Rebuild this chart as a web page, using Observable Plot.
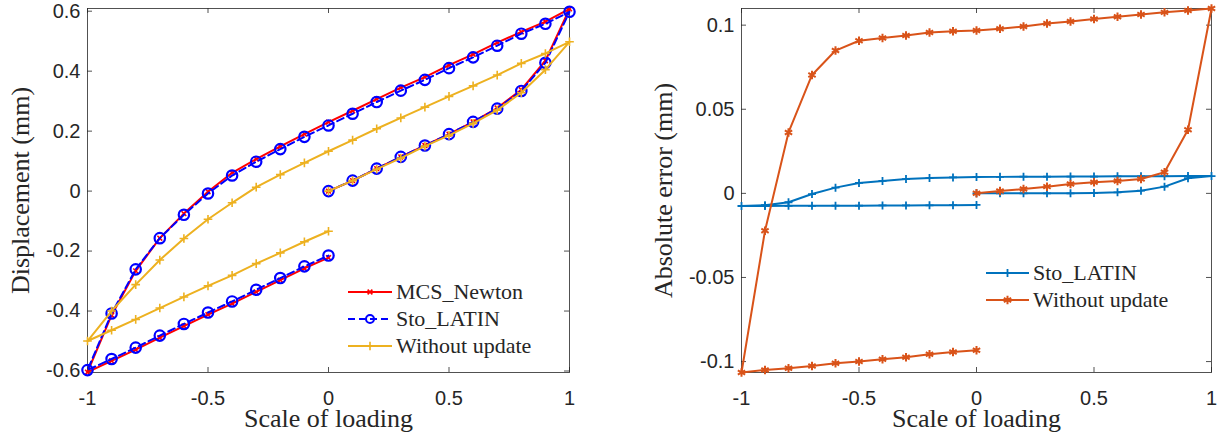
<!DOCTYPE html>
<html><head><meta charset="utf-8">
<script src="https://cdn.jsdelivr.net/npm/d3@7"></script>
<script src="https://cdn.jsdelivr.net/npm/@observablehq/plot@0.6"></script>
<style>
body{margin:0;background:#fff}
#wrap{position:relative;width:1221px;height:442px;overflow:hidden;background:#fff}
#wrap > svg{position:absolute;top:0}
.lg text{font-family:'Liberation Serif','Times New Roman',serif !important;font-size:22px}
</style></head><body><div id="wrap"></div>
<script>
// loading path: 0 -> 1 -> -1 -> 0
const loading = [0,0.1,0.2,0.3,0.4,0.5,0.6,0.7,0.8,0.9,1,
  0.9,0.8,0.7,0.6,0.5,0.4,0.3,0.2,0.1,0,-0.1,-0.2,-0.3,-0.4,-0.5,-0.6,-0.7,-0.8,-0.9,-1,
  -0.9,-0.8,-0.7,-0.6,-0.5,-0.4,-0.3,-0.2,-0.1,0];

// Left panel: displacement (mm)
const mcsNewton = [0,0.035,0.075,0.114,0.152,0.19,0.231,0.277,0.338,0.435,0.608,
  0.565,0.531,0.495,0.456,0.42,0.38,0.345,0.307,0.268,0.23,0.19,0.149,0.107,0.061,-0.002,-0.075,-0.157,-0.266,-0.414,-0.604,
  -0.566,-0.529,-0.489,-0.45,-0.412,-0.375,-0.336,-0.297,-0.258,-0.222];
const stoLatin = [0,0.035,0.075,0.114,0.152,0.19,0.231,0.275,0.334,0.428,0.598,
  0.558,0.525,0.485,0.446,0.41,0.371,0.335,0.297,0.258,0.219,0.181,0.14,0.098,0.052,-0.008,-0.079,-0.157,-0.261,-0.408,-0.597,
  -0.56,-0.522,-0.482,-0.443,-0.405,-0.368,-0.329,-0.29,-0.251,-0.215];
const withoutUpdate = [0,0.035,0.073,0.11,0.15,0.186,0.226,0.27,0.328,0.405,0.498,
  0.459,0.426,0.387,0.351,0.316,0.28,0.244,0.208,0.17,0.133,0.094,0.055,0.013,-0.039,-0.094,-0.158,-0.23,-0.312,-0.4,-0.5,
  -0.464,-0.428,-0.39,-0.353,-0.316,-0.281,-0.242,-0.206,-0.169,-0.134];

// Right panel: absolute error (mm)
const errStoLatin = [0,0,0,0,0,0.0002,0.0006,0.0016,0.004,0.009,0.0103,
  0.0103,0.0102,0.0101,0.0101,0.01,0.01,0.0099,0.0099,0.0098,0.0097,0.0095,0.0091,0.0085,0.0074,0.0062,0.0034,-0.0004,-0.0053,-0.007,-0.0075,
  -0.0075,-0.0074,-0.0074,-0.0073,-0.0073,-0.0072,-0.0072,-0.0071,-0.007,-0.0069];
const errWithout = [0,0.0014,0.0026,0.004,0.0056,0.0066,0.0074,0.0085,0.0125,0.0378,0.1099,
  0.1087,0.1076,0.1064,0.105,0.1036,0.1022,0.101,0.0992,0.0978,0.0968,0.0964,0.0956,0.0938,0.0924,0.0907,0.0849,0.0704,0.0362,-0.0222,-0.1065,
  -0.105,-0.104,-0.1026,-0.101,-0.1,-0.0986,-0.0974,-0.0956,-0.0943,-0.0933];

const xTicks = [-1,-0.5,0,0.5,1];
const yTicksLeft = [-0.6,-0.4,-0.2,0,0.2,0.4,0.6];
const yTicksRight = [-0.1,-0.05,0,0.05,0.1];
const xLabel = "Scale of loading";
const yLabelLeft = "Displacement (mm)";
const yLabelRight = "Absolute error (mm)";
const legendLeft = ["MCS_Newton","Sto_LATIN","Without update"];
const legendRight = ["Sto_LATIN","Without update"];

const SERIF = "'Liberation Serif','Times New Roman',serif";
const SANS = "'Liberation Sans',Arial,Helvetica,sans-serif";
const AXC = "#262626";
const H = 442, MT = 8, MB = 70;

function rows(vals){ return loading.map((x,i)=>({x, y: vals[i]})); }

function panel({width, marginLeft, marginRight, yDomain, yTicks, series, ylabel, ylabelDx}) {
  const innerW = width - marginLeft - marginRight;
  const innerH = H - MT - MB;
  const marks = [
    Plot.frame({stroke: AXC, strokeWidth: 1, strokeOpacity: 0.8}),
    Plot.tickX(xTicks, {x: d => d, insetTop: innerH - 5, stroke: AXC, strokeOpacity: 0.8}),
    Plot.tickX(xTicks, {x: d => d, insetBottom: innerH - 5, stroke: AXC, strokeOpacity: 0.8}),
    Plot.tickY(yTicks, {y: d => d, insetRight: innerW - 5, stroke: AXC, strokeOpacity: 0.8}),
    Plot.tickY(yTicks, {y: d => d, insetLeft: innerW - 5, stroke: AXC, strokeOpacity: 0.8}),
    Plot.axisX({ticks: xTicks, tickSize: 0, tickPadding: 18, label: null, tickFormat: d => String(d), fill: AXC, fontSize: 20, fontFamily: SANS}),
    Plot.axisY({ticks: yTicks, tickSize: 0, tickPadding: 7, label: null, tickFormat: d => String(d), fill: AXC, fontSize: 20, fontFamily: SANS}),
    Plot.text([xLabel], {text: d => d, frameAnchor: "bottom", dy: 54, textAnchor: "middle", fontFamily: SERIF, fontSize: 26, fill: AXC}),
    Plot.text([ylabel], {text: d => d, frameAnchor: "left", dx: ylabelDx, textAnchor: "middle", rotate: -90, fontFamily: SERIF, fontSize: 26, fill: AXC})
  ];
  for (const s of series) {
    const data = rows(s.vals);
    marks.push(Plot.line(data, {x: "x", y: "y", stroke: s.color, strokeWidth: s.lw, strokeDasharray: s.dash}));
    marks.push(Plot.dot(data, {x: "x", y: "y", symbol: s.symbol, r: s.r, stroke: s.color, strokeWidth: s.mw, fill: "none"}));
  }
  return Plot.plot({
    width, height: H, marginTop: MT, marginBottom: MB, marginLeft, marginRight,
    x: {domain: [-1, 1]},
    y: {domain: yDomain},
    style: {fontFamily: SANS, fontSize: "20px", color: AXC, background: "transparent", overflow: "visible"},
    marks
  });
}

const left = panel({
  width: 610, marginLeft: 87, marginRight: 41,
  yDomain: [-0.605, 0.609], yTicks: yTicksLeft, ylabel: yLabelLeft, ylabelDx: -67,
  series: [
    {vals: mcsNewton, color: "#ff0000", lw: 2, symbol: "times", r: 2.3, mw: 1.6},
    {vals: stoLatin, color: "#0000ff", lw: 2, dash: "7,4", symbol: "circle", r: 5.2, mw: 2.2},
    {vals: withoutUpdate, color: "#edb120", lw: 2, symbol: "plus", r: 2.9, mw: 1.6}
  ]
});
const right = panel({
  width: 611, marginLeft: 131, marginRight: 10,
  yDomain: [-0.1065, 0.1099], yTicks: yTicksRight, ylabel: yLabelRight, ylabelDx: -78,
  series: [
    {vals: errStoLatin, color: "#0072bd", lw: 2, symbol: "plus", r: 2.7, mw: 1.8},
    {vals: errWithout, color: "#d95319", lw: 2, symbol: "asterisk", r: 4, mw: 2}
  ]
});
const wrap = document.getElementById("wrap");
left.style.left = "0px";
right.style.left = "610px";
wrap.appendChild(left);
wrap.appendChild(right);

// Legends (overlay)
const ov = d3.select(wrap).append("svg").attr("class", "lg").attr("width", 1221).attr("height", H)
  .style("position","absolute").style("left","0px").style("top","0px");
function legend(items, x0, x1, tx, ys) {
  items.forEach((it, i) => {
    const y = ys[i], xm = (x0 + x1) / 2;
    const g = ov.append("g");
    g.append("line").attr("x1", x0).attr("x2", x1).attr("y1", y).attr("y2", y)
      .attr("stroke", it.color).attr("stroke-width", 2).attr("stroke-dasharray", it.dash || null);
    const sym = d3.symbol(it.sym, Math.PI * it.r * it.r)();
    g.append("path").attr("d", sym).attr("transform", `translate(${xm},${y})`)
      .attr("fill", "none").attr("stroke", it.color).attr("stroke-width", it.mw);
    g.append("text").attr("x", tx).attr("y", y).attr("dy", "0.33em")
      .style("font-family", SERIF).style("font-size", "22px").attr("fill", AXC).text(it.label);
  });
}
legend([
  {label: legendLeft[0], color: "#ff0000", sym: d3.symbolTimes, r: 2.3, mw: 1.6},
  {label: legendLeft[1], color: "#0000ff", sym: d3.symbolCircle, r: 4, mw: 2, dash: "7,4"},
  {label: legendLeft[2], color: "#edb120", sym: d3.symbolPlus, r: 2.9, mw: 1.6}
], 348, 392, 396, [292, 319, 346]);
legend([
  {label: legendRight[0], color: "#0072bd", sym: d3.symbolPlus, r: 2.7, mw: 1.8},
  {label: legendRight[1], color: "#d95319", sym: d3.symbolAsterisk, r: 4, mw: 2}
], 986, 1029, 1033, [273, 300]);
</script></body></html>
